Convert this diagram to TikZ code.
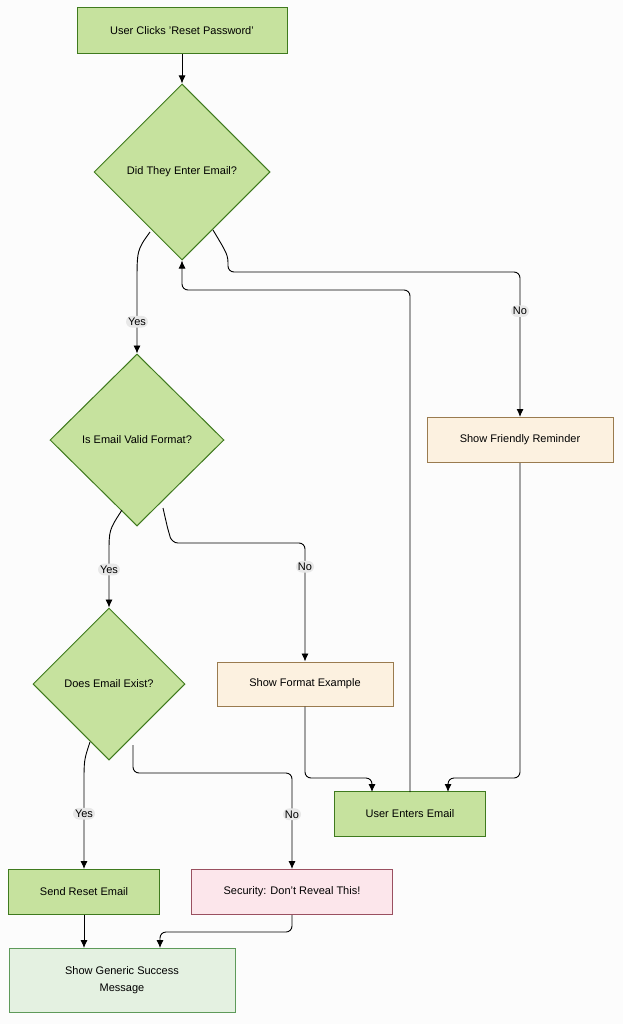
\documentclass[tikz,border=0pt]{standalone}
\usepackage{fontspec}
\setmainfont{Liberation Sans}
\usetikzlibrary{shapes.geometric,arrows.meta}
\definecolor{gfill}{HTML}{C6E29E}
\definecolor{gdraw}{HTML}{3F7A1E}
\definecolor{cfill}{HTML}{FCF1E0}
\definecolor{cdraw}{HTML}{9A7B4F}
\definecolor{pfill}{HTML}{FCE6EB}
\definecolor{pdraw}{HTML}{9A5060}
\definecolor{lfill}{HTML}{E4F1E1}
\definecolor{ldraw}{HTML}{5E9A5A}
\begin{document}
\begin{tikzpicture}[x=1pt,y=-1pt,font=\fontsize{11}{14}\selectfont,
 box/.style={draw=gdraw,fill=gfill,line width=1pt,minimum height=46pt,align=center},
 cbox/.style={box,draw=cdraw,fill=cfill},
 pbox/.style={box,draw=pdraw,fill=pfill},
 lbox/.style={box,draw=ldraw,fill=lfill},
 dia/.style={diamond,draw=gdraw,fill=gfill,line width=1pt,inner sep=0pt,align=center},
 arr/.style={draw=black,line width=0.9pt,-{Latex[length=8pt,width=7pt]},rounded corners=6pt},
 lab/.style={fill=black!9,inner sep=2pt,font=\fontsize{11}{13}\selectfont}]
\useasboundingbox[fill=white!98!gray] (0,0) rectangle (623,1024);
\node[box,minimum width=210pt] (a) at (182,31) {User Clicks 'Reset Password'};
\node[dia,minimum width=176pt,minimum height=176pt] (d1) at (182,172) {Did They Enter Email?};
\node[dia,minimum width=174pt,minimum height=172pt] (d2) at (137,440) {Is Email Valid Format?};
\node[dia,minimum width=152pt,minimum height=152pt] (d3) at (109,684) {Does Email Exist?};
\node[cbox,minimum width=186pt,minimum height=45pt] (rem) at (520,440) {Show Friendly Reminder};
\node[cbox,minimum width=176pt,minimum height=44pt] (fmt) at (305,684) {Show Format Example};
\node[box,minimum width=151pt,minimum height=45pt] (ue) at (410,814) {User Enters Email};
\node[box,minimum width=151pt,minimum height=45pt] (sr) at (84,892) {Send Reset Email};
\node[pbox,minimum width=201pt,minimum height=45pt] (sec) at (292,892) {Security: Don't Reveal This!};
\node[lbox,minimum width=226pt,minimum height=64pt] (gen) at (122,980) {Show Generic Success\\[3pt]Message};
\coordinate (d1y) at (150,232); \coordinate (d1n) at (213,230);
\coordinate (d2y) at (122,510); \coordinate (d2n) at (163,508);
\coordinate (d3y) at (90,742); \coordinate (d3n) at (133,745);
\draw[arr] (a) -- (d1);
\draw[arr] (d1y) .. controls (137,250) .. (137,290) -- node[lab]{Yes} (d2.north);
\draw[arr] (d1n) .. controls (228,255) .. (228,272) -- (520,272) -- node[lab,pos=0.27]{No} (rem.north);
\draw[arr] (ue.north -| 410,0) ++(0,0) (410,792) -- (410,290) -- (182,290) -- (d1.south);
\draw[arr] (d2y) .. controls (109,530) .. (109,560) -- node[lab,pos=0.2]{Yes} (d3.north);
\draw[arr] (d2n) .. controls (168,530) .. (172,543) -- (305,543) -- node[lab,pos=0.2]{No} (fmt.north);
\draw[arr] (d3y) .. controls (84,760) .. (84,790) -- node[lab,pos=0.3]{Yes} (sr.north);
\draw[arr] (d3n) -- (133,773) -- (292,773) -- node[lab,pos=0.43]{No} (sec.north);
\draw[arr] (fmt.south) -- (305,778) -- (372,778) -- (372,792);
\draw[arr] (rem.south) -- (520,778) -- (448,778) -- (448,792);
\draw[arr] (sr.south) -- (84,948);
\draw[arr] (sec.south) -- (292,932) -- (160,932) -- (160,948);
\end{tikzpicture}
\end{document}
